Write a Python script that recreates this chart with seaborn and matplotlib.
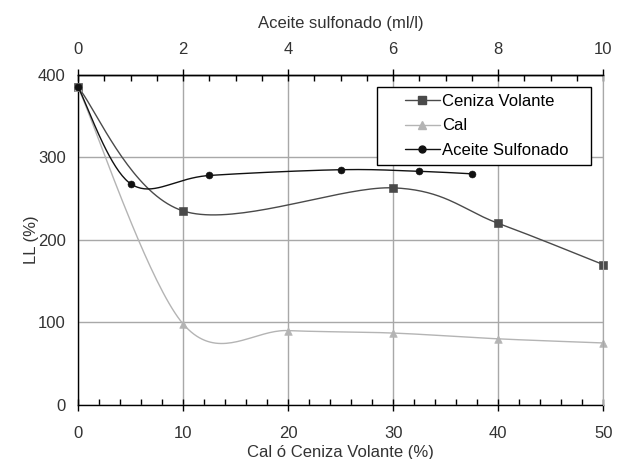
import numpy as np
import pandas as pd
import matplotlib
matplotlib.use("Agg")
import matplotlib.pyplot as plt
from matplotlib.lines import Line2D
from matplotlib.legend_handler import HandlerLine2D
from matplotlib.ticker import MultipleLocator
import seaborn as sns

# values
pct = [0, 10, 30, 40, 50]
ceniza = [385, 235, 263, 220, 170]
pct_cal = [0, 10, 20, 30, 40, 50]
cal = [385, 98, 90, 87, 80, 75]
aceite_ml = [0, 1, 2.5, 5, 6.5, 7.5]
aceite = [385, 268, 278, 285, 283, 280]


def smooth(x, y, n=40):
    # Excel-like smoothed line (Catmull-Rom as cubic Bezier)
    p = np.column_stack([x, y]).astype(float)
    pts = []
    for i in range(len(p) - 1):
        p0 = p[i - 1] if i > 0 else p[i]
        p3 = p[i + 2] if i + 2 < len(p) else p[i + 1]
        c1 = p[i] + (p[i + 1] - p0) / 6
        c2 = p[i + 1] - (p3 - p[i]) / 6
        t = np.linspace(0, 1, n)[:, None]
        seg = ((1 - t) ** 3 * p[i] + 3 * (1 - t) ** 2 * t * c1
               + 3 * (1 - t) * t ** 2 * c2 + t ** 3 * p[i + 1])
        pts.append(seg if i == 0 else seg[1:])
    pts = np.vstack(pts)
    return pd.DataFrame({"x": pts[:, 0], "y": pts[:, 1]})


sns.set_style("white")
plt.rcParams['font.family'] = ['Liberation Sans Narrow', 'Liberation Sans', 'DejaVu Sans']
txt = "#333333"
fs = 12

fig = plt.figure(figsize=(6.2, 4.59), dpi=100)
ax = fig.add_axes([0.126, 0.118, 0.847, 0.719])
ax2 = ax.twiny()

c_cen, c_cal, c_ace = "#4a4a4a", "#b4b4b4", "#111111"

sns.lineplot(data=smooth(pct, ceniza), x="x", y="y", ax=ax, color=c_cen, lw=1.0, sort=False)
sns.scatterplot(x=pct, y=ceniza, ax=ax, marker="s", s=30, color=c_cen, edgecolor=c_cen,
                zorder=5, clip_on=False)
sns.lineplot(data=smooth(pct_cal, cal), x="x", y="y", ax=ax, color=c_cal, lw=1.0, sort=False)
sns.scatterplot(x=pct_cal, y=cal, ax=ax, marker="^", s=30, color=c_cal, edgecolor=c_cal,
                zorder=5, clip_on=False)
sns.lineplot(data=smooth(aceite_ml, aceite), x="x", y="y", ax=ax2, color=c_ace, lw=1.0, sort=False)
sns.scatterplot(x=aceite_ml, y=aceite, ax=ax2, marker="o", s=25, color=c_ace, edgecolor=c_ace,
                zorder=5, clip_on=False)

ax.set_xlim(0, 50)
ax.set_ylim(0, 400)
ax2.set_xlim(0, 10)
ax.xaxis.set_major_locator(MultipleLocator(10))
ax.xaxis.set_minor_locator(MultipleLocator(2))
ax.yaxis.set_major_locator(MultipleLocator(100))
ax.yaxis.set_minor_locator(MultipleLocator(20))
ax2.xaxis.set_major_locator(MultipleLocator(2))
ax2.xaxis.set_minor_locator(MultipleLocator(0.5))

ax.grid(True, which="major", color="#a8a8a8", lw=1.0)
ax.set_axisbelow(True)

for a in (ax, ax2):
    for side in ("left", "bottom", "top"):
        a.spines[side].set_color("black")
        a.spines[side].set_linewidth(1.0)
    a.spines["right"].set_color("#a8a8a8")
ax2.spines["bottom"].set_visible(False)
ax2.spines["left"].set_visible(False)

ax.tick_params(axis="both", which="major", direction="inout", length=8, width=1,
               colors="black", labelcolor=txt, labelsize=fs)
ax.tick_params(axis="x", which="major", pad=11)
ax.tick_params(axis="y", which="major", pad=5)
ax.tick_params(axis="both", which="minor", direction="in", length=4, width=1, colors="black")
ax2.tick_params(axis="x", which="major", direction="inout", length=8, width=1,
                colors="black", labelcolor=txt, labelsize=fs, pad=9)
ax2.tick_params(axis="x", which="minor", direction="in", length=4, width=1, colors="black")

ax.set_xlabel("Cal ó Ceniza Volante (%)", fontsize=fs, color=txt, labelpad=3)
ax.set_ylabel("LL (%)", fontsize=fs, color=txt, labelpad=-1)
ax2.set_xlabel("Aceite sulfonado (ml/l)", fontsize=fs, color=txt, labelpad=10)

handles = [
    Line2D([], [], color=c_cen, lw=1.0, marker="s", markersize=5.5),
    Line2D([], [], color=c_cal, lw=1.0, marker="^", markersize=5.5),
    Line2D([], [], color=c_ace, lw=1.0, marker="o", markersize=5),
]
labels = ["Ceniza Volante", "Cal", "Aceite Sulfonado"]
hmap = {h: HandlerLine2D(xpad=1.2) for h in handles}
leg = ax2.legend(handles, labels, loc="upper left", mode="expand",
                 bbox_to_anchor=(0.5695, 0.727, 0.4076, 0.2366),
                 frameon=True, fancybox=False, framealpha=1, edgecolor="black",
                 fontsize=fs, handlelength=3.3, handletextpad=0.15, borderpad=0.45,
                 labelspacing=0.55, labelcolor="black", borderaxespad=0, handler_map=hmap)
leg.get_frame().set_linewidth(1.0)

fig.savefig("out.png", dpi=100)
